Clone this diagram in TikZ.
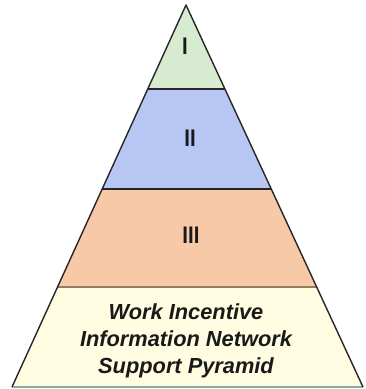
\documentclass[tikz,border=0pt]{standalone}
\usepackage{fontspec}
\setmainfont{Liberation Sans}
\usetikzlibrary{calc}
\definecolor{layerI}{HTML}{D6EBCF}
\definecolor{layerII}{HTML}{B7C6F2}
\definecolor{layerIII}{HTML}{F8C9A6}
\definecolor{layerIV}{HTML}{FFFCE2}
\definecolor{brownline}{HTML}{8C7F62}
\definecolor{tealline}{HTML}{86ADA6}
\tikzset{
  numeral/.style={font=\fontsize{24}{26}\selectfont\bfseries, text=black!90, xscale=0.85},
  caption/.style={font=\fontsize{21.8}{27}\selectfont\bfseries\itshape, align=center, text=black!90},
  edge/.style={line width=1.4pt, black!85, line join=round},
  divider/.style={line width=1.5pt, black!85},
}
\begin{document}
\begin{tikzpicture}[x=1pt,y=-1pt]
\useasboundingbox (0,0) rectangle (366,389);
\coordinate (A) at (186,5);
\coordinate (BL) at (12,387);
\coordinate (BR) at (363,387);
\coordinate (L1) at ($(A)!0.2199!(BL)$);
\coordinate (R1) at ($(A)!0.2199!(BR)$);
\coordinate (L2) at ($(A)!0.4817!(BL)$);
\coordinate (R2) at ($(A)!0.4817!(BR)$);
\coordinate (L3) at ($(A)!0.7382!(BL)$);
\coordinate (R3) at ($(A)!0.7382!(BR)$);
% fills
\fill[layerI] (A) -- (R1) -- (L1) -- cycle;
\fill[layerII] (L1) -- (R1) -- (R2) -- (L2) -- cycle;
\fill[layerIII] (L2) -- (R2) -- (R3) -- (L3) -- cycle;
\fill[layerIV] (L3) -- (R3) -- (BR) -- (BL) -- cycle;
% dividers
\draw[divider] (L1) -- (R1);
\draw[divider] (L2) -- (R2);
\draw[line width=2.6pt, brownline] (L3) -- (R3);
\draw[line width=2.6pt, tealline] (BL) -- (BR);
% outer edges
\draw[edge] (BL) -- (A) -- (BR);
% labels
\node[numeral] (n1) at (185,46) {I};
\node[numeral] (n2) at (190,138) {II};
\node[numeral] (n3) at (191,235) {III};
\node[caption] (cap) at (186,341) {Work Incentive\\Information Network\\Support Pyramid};
\end{tikzpicture}
\end{document}
